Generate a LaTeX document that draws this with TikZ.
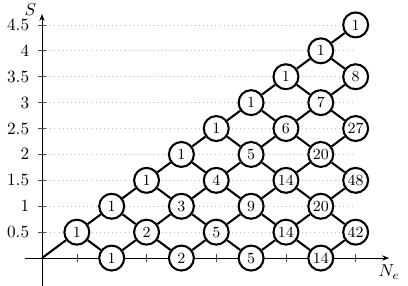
\documentclass[tikz,border=0pt]{standalone}
\usetikzlibrary{arrows.meta}
\begin{document}
\begin{tikzpicture}[x=20.26pt,y=30.12pt,
  vert/.style={circle,draw,very thick,fill=white,minimum size=14.5pt,inner sep=0pt,font=\small},
  link/.style={very thick},
  axisline/.style={line width=0.4pt,-{Stealth[length=4pt,width=3pt]}},
  gridline/.style={gray!50,dotted,line width=0.4pt},
  tickmark/.style={line width=0.4pt,black!70}]
\useasboundingbox (-1.205,-0.521) rectangle (10.502,4.981);
% grid
\foreach \j in {1,...,9} \draw[gridline] (0,\j/2) -- (9,\j/2);
% axes
\coordinate (xs) at (-0.488,0);
\coordinate (xe) at (9.96,0);
\coordinate (ys) at (0,-0.53);
\coordinate (ye) at (0,4.71);
\draw[axisline] (xs) -- (xe);
\draw[axisline] (ys) -- (ye);
\node (xlab) [anchor=north,inner sep=1pt] at (9.96,-0.09) {$N_e$};
\node (ylab) [inner sep=0pt] at (-0.33,4.79) {$S$};
\foreach \i in {1,...,9} \draw[tickmark] (\i,0) ++(0,-2.1pt) -- ++(0,4.2pt);
\foreach \j in {1,...,9} \draw[tickmark] (0,\j/2) ++(-2.1pt,0) -- ++(4.2pt,0);
\foreach \j/\t in {1/0.5,2/1,3/1.5,4/2,5/2.5,6/3,7/3.5,8/4,9/4.5}
  \node (yt\j) [anchor=east,inner sep=0pt] at (-0.36,\j/2) {$\t$};
% vertices
\foreach \n/\j/\v in {1/1/1, 2/0/1, 2/2/1, 3/1/2, 3/3/1, 4/0/2, 4/2/3, 4/4/1,
  5/1/5, 5/3/4, 5/5/1, 6/0/5, 6/2/9, 6/4/5, 6/6/1, 7/1/14, 7/3/14, 7/5/6, 7/7/1,
  8/0/14, 8/2/20, 8/4/20, 8/6/7, 8/8/1, 9/1/42, 9/3/48, 9/5/27, 9/7/8, 9/9/1}
  \node[vert] (v-\n-\j) at (\n,\j/2) {\v};
% links
\coordinate (o) at (0,0);
\draw[link] (o) -- (v-1-1);
\foreach \n/\j in {1/1, 2/0, 2/2, 3/1, 3/3, 4/0, 4/2, 4/4, 5/1, 5/3, 5/5,
  6/0, 6/2, 6/4, 6/6, 7/1, 7/3, 7/5, 7/7, 8/0, 8/2, 8/4, 8/6, 8/8} {
  \pgfmathtruncatemacro{\m}{\n+1}
  \pgfmathtruncatemacro{\u}{\j+1}
  \pgfmathtruncatemacro{\d}{\j-1}
  \draw[link] (v-\n-\j) -- (v-\m-\u);
  \ifnum\j>0 \draw[link] (v-\n-\j) -- (v-\m-\d); \fi
}
\end{tikzpicture}
\end{document}
